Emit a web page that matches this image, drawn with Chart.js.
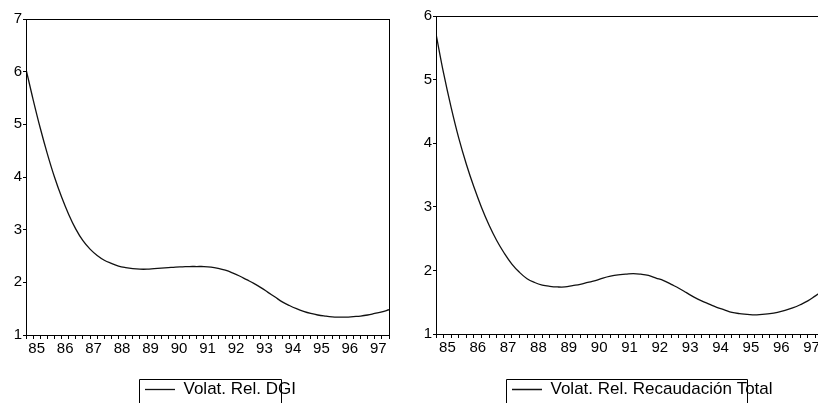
<!DOCTYPE html>
<html>
<head>
<meta charset="utf-8">
<style>
    html, body { margin: 0; padding: 0; background: #fff; overflow: hidden; }
    body { width: 818px; height: 403px; position: relative; }
    canvas { position: absolute; top: 0; }
</style>
</head>
<body>
<canvas id="dgi" width="410" height="403" style="left:0px"></canvas>
<canvas id="total" width="430" height="403" style="left:408px"></canvas>

<script src="https://cdn.jsdelivr.net/npm/chart.js"></script>

<script>
    // quarterly observations 1985Q1 .. 1997Q4
    var years = ['85', '86', '87', '88', '89', '90', '91', '92', '93', '94', '95', '96', '97'];

    var dgi = [
        6.05, 5.47, 4.93, 4.44, 4.00, 3.62, 3.29, 3.01, 2.79, 2.63, 2.51, 2.42, 2.36,
        2.31, 2.28, 2.26, 2.25, 2.25, 2.26, 2.27, 2.28, 2.29, 2.295, 2.30, 2.30, 2.30,
        2.29, 2.265, 2.23, 2.18, 2.12, 2.05, 1.98, 1.90, 1.81, 1.72, 1.63, 1.56, 1.50,
        1.45, 1.41, 1.38, 1.36, 1.345, 1.34, 1.34, 1.35, 1.36, 1.38, 1.41, 1.44, 1.48
    ];

    var total = [
        5.72, 5.10, 4.56, 4.08, 3.67, 3.31, 2.99, 2.71, 2.47, 2.27, 2.10, 1.97, 1.87,
        1.81, 1.77, 1.75, 1.74, 1.74, 1.76, 1.78, 1.81, 1.84, 1.88, 1.91, 1.93, 1.94,
        1.95, 1.94, 1.92, 1.88, 1.84, 1.78, 1.72, 1.65, 1.58, 1.52, 1.47, 1.42, 1.38,
        1.34, 1.32, 1.31, 1.30, 1.31, 1.32, 1.34, 1.37, 1.41, 1.46, 1.52, 1.60, 1.68
    ];

    var tickFont = { family: 'Liberation Sans, Arial, sans-serif', size: 15 };
    var legendFont = { family: 'Liberation Sans, Arial, sans-serif', size: 17 };

    // box around the plot, legend frame, legend placement
    var framePlugin = {
        id: 'frame',
        afterLayout: function (chart, args, opts) {
            var lg = chart.legend;
            var start = (lg.left + lg.right - lg.lineWidths[0] + lg.options.labels.padding) / 2;
            var dx = opts.legendStart - start;
            lg.left += dx; lg.right += dx;
            lg.top += opts.legendDrop; lg.bottom += opts.legendDrop;
        },
        afterDraw: function (chart) {
            var a = chart.chartArea, ctx = chart.ctx;
            ctx.save();
            ctx.strokeStyle = '#000';
            ctx.lineWidth = 1;
            ctx.strokeRect(Math.round(a.left) + 0.5, Math.round(a.top) + 0.5,
                Math.round(a.right - a.left), Math.round(a.bottom - a.top));
            var hb = chart.legend.legendHitBoxes[0];
            if (hb) {
                var cy = hb.top + hb.height / 2;
                var l = Math.round(hb.left - 6) + 0.5;
                var r = Math.round(hb.left + hb.width * 0.9) + 0.5;
                var t = Math.round(cy - 11) + 0.5;
                ctx.beginPath();
                ctx.moveTo(l, chart.height + 2);
                ctx.lineTo(l, t);
                ctx.lineTo(r, t);
                ctx.lineTo(r, chart.height + 2);
                ctx.stroke();
            }
            ctx.restore();
        }
    };

    function makeChart(id, label, values, yMax, pad, yWidth, xHeight, legendStart) {
        return new Chart(document.getElementById(id), {
            type: 'line',
            data: {
                datasets: [{
                    label: label,
                    data: values.map(function (v, i) { return { x: i, y: v }; }),
                    borderColor: '#111',
                    backgroundColor: '#111',
                    borderWidth: 1.3,
                    pointRadius: 0,
                    tension: 0.4,
                    fill: false
                }]
            },
            options: {
                responsive: false,
                animation: false,
                events: [],
                layout: { padding: pad },
                plugins: {
                    tooltip: { enabled: false },
                    legend: {
                        position: 'bottom',
                        labels: {
                            color: '#000',
                            font: legendFont,
                            usePointStyle: true,
                            pointStyle: 'line',
                            pointStyleWidth: 30,
                            padding: 10
                        }
                    },
                    frame: { legendStart: legendStart, legendDrop: 5 }
                },
                scales: {
                    x: {
                        type: 'linear',
                        min: 0,
                        max: values.length - 1,
                        afterBuildTicks: function (scale) {
                            var t = [];
                            for (var v = 0; v <= values.length - 1; v += 0.5) t.push({ value: v });
                            scale.ticks = t;
                        },
                        afterFit: function (scale) { scale.height = xHeight; },
                        grid: {
                            drawOnChartArea: false,
                            tickLength: 4,
                            tickColor: function (c) {
                                return c.tick && Number.isInteger(c.tick.value) ? '#000' : 'rgba(0,0,0,0)';
                            }
                        },
                        border: { color: '#000' },
                        ticks: {
                            autoSkip: false,
                            maxRotation: 0,
                            padding: 1,
                            color: '#000',
                            font: tickFont,
                            callback: function (v) {
                                var k = (v - 1.5) / 4;
                                return Number.isInteger(k) ? years[k] : '';
                            }
                        }
                    },
                    y: {
                        min: 1,
                        max: yMax,
                        afterFit: function (scale) { scale.width = yWidth; },
                        grid: { drawOnChartArea: false, tickLength: 3, tickColor: '#000' },
                        border: { color: '#000' },
                        ticks: { stepSize: 1, padding: 1, color: '#000', font: tickFont }
                    }
                }
            },
            plugins: [framePlugin]
        });
    }

    makeChart('dgi', 'Volat. Rel. DGI', dgi, 7,
        { left: 0, top: 19, right: 21, bottom: 0 }, 26, 31, 145);
    makeChart('total', 'Volat. Rel. Recaudación Total', total, 6,
        { left: 0, top: 16, right: 15, bottom: 0 }, 28, 32, 104);
</script>
</body>
</html>
